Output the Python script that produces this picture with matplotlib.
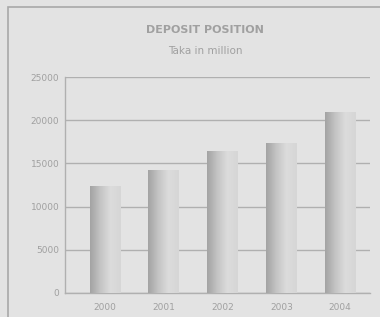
import numpy as np
import matplotlib.pyplot as plt
from matplotlib.colors import LinearSegmentedColormap
from matplotlib.patches import Rectangle

# --- data ---
years = ["2000", "2001", "2002", "2003", "2004"]
deposits = [12350, 14200, 16400, 17350, 20900]
yticks = [0, 5000, 10000, 15000, 20000, 25000]

BG = "#e3e3e3"
TXT = "#a0a0a0"
GRID = "#b0b0b0"

fig = plt.figure(figsize=(3.8, 3.17), dpi=100, facecolor=BG)
ax = fig.add_axes([0.171, 0.076, 0.803, 0.681], facecolor=BG)

# outer frame
fig.patches.append(Rectangle((0.021, -0.05), 1.2, 1.028, transform=fig.transFigure,
                             fill=False, edgecolor="#a9a9a9", linewidth=1.2))

x = np.arange(len(years))
width = 0.52
shade = LinearSegmentedColormap.from_list("shade", ["#a3a3a3", "#c4c4c4", "#dcdcdc", "#d6d6d6"])
grad = np.linspace(0, 1, 64).reshape(1, -1)

for xi, v in zip(x, deposits):
    ax.imshow(grad, cmap=shade, aspect="auto", extent=(xi - width / 2, xi + width / 2, 0, v),
              zorder=3, interpolation="bilinear")

ax.set_xlim(-0.68, 4.51)
ax.set_ylim(0, 25000)
ax.set_xticks(x)
ax.set_xticklabels(years)
ax.set_yticks(yticks)
ax.grid(axis="y", color=GRID, linewidth=1.0, zorder=1)
ax.tick_params(axis="both", colors=TXT, labelsize=6.5, length=0)
ax.tick_params(axis="x", pad=7)
ax.tick_params(axis="y", pad=4)
for s in ["top", "right"]:
    ax.spines[s].set_visible(False)
for s in ["left", "bottom"]:
    ax.spines[s].set_color(GRID)
    ax.spines[s].set_linewidth(1.0)

fig.text(0.54, 0.905, "DEPOSIT POSITION", ha="center", va="center",
         fontsize=8, fontweight="bold", color=TXT)
fig.text(0.54, 0.84, "Taka in million", ha="center", va="center",
         fontsize=7.5, color=TXT)

fig.savefig("out.png", dpi=100, facecolor=BG)
